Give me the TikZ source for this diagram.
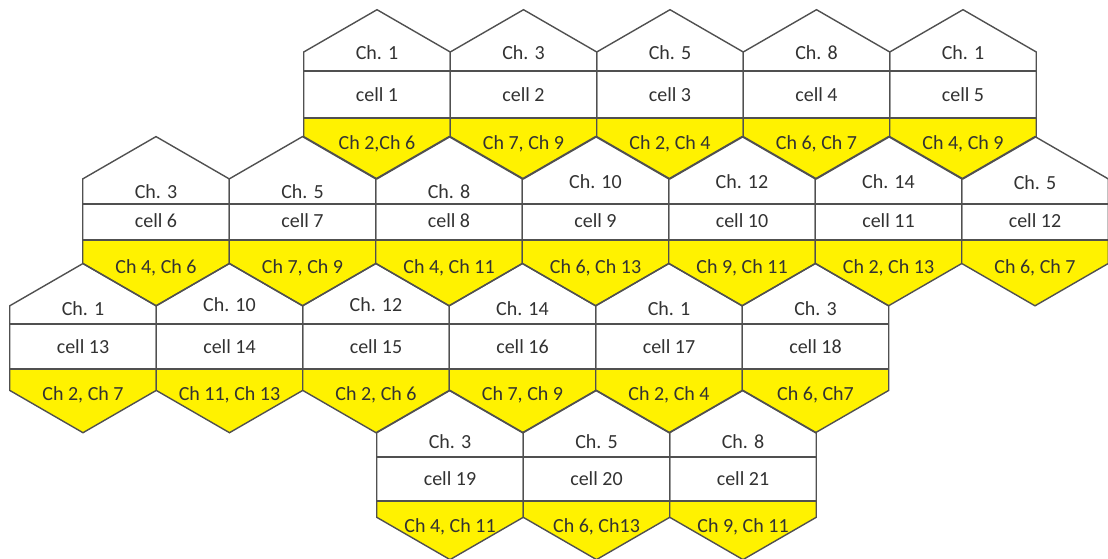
\documentclass[tikz,border=0pt]{standalone}
\usepackage{fontspec}
\setmainfont{Carlito}
\usepackage{tikz}
\definecolor{hexline}{RGB}{80,80,80}
\definecolor{hexyellow}{RGB}{255,242,0}
\definecolor{hextext}{RGB}{50,50,50}

% one hexagonal cell: centre x, number, channel, channel pair, y of channel label
\newcommand\hexcell[5]{%
  \fill[hexyellow] (#1-73.25,\divlow) -- (#1+73.25,\divlow) -- (#1+73.25,\rowbot)
    -- (#1,\rowbot+42.3) -- (#1-73.25,\rowbot) -- cycle;
  \draw[edge] (#1,\rowtop-42.3) -- (#1+73.25,\rowtop) -- (#1+73.25,\rowbot)
    -- (#1,\rowbot+42.3) -- (#1-73.25,\rowbot) -- (#1-73.25,\rowtop) -- cycle;
  \draw[edge] (#1-73.25,\divup) -- (#1+73.25,\divup);
  \draw[edge] (#1-73.25,\divlow) -- (#1+73.25,\divlow);
  \node[lbl] (ch#2) at (#1,#5) {Ch. #3};
  \node[lbl] (cell#2) at (#1,\ycell) {cell #2};
  \node[lbl] (pair#2) at (#1,\ypair) {#4};
}

\begin{document}
\begin{tikzpicture}[x=1pt, y=-1pt,
    lbl/.style={font=\fontsize{20}{24}\selectfont, text=hextext,
                inner sep=0pt, text height=13pt, text depth=0pt},
    edge/.style={draw=hexline, line width=1.4pt, line join=miter}
  ]
  \useasboundingbox (0,0) rectangle (1108,559);
  \clip (0,0) rectangle (1108,559);

  % row 1
  \def\rowtop{52}\def\rowbot{136.6}\def\divup{71}\def\divlow{118}
  \def\ycell{95}\def\ypair{143}
  \foreach \cx/\no/\chan/\pair in {377/1/1/{Ch 2,Ch 6}, 523.5/2/3/{Ch 7, Ch 9},
      670/3/5/{Ch 2, Ch 4}, 816.5/4/8/{Ch 6, Ch 7}, 963/5/1/{Ch 4, Ch 9}}
    {\hexcell{\cx}{\no}{\chan}{\pair}{53}}

  % row 2
  \def\rowtop{178.9}\def\rowbot{263.5}\def\divup{204}\def\divlow{240}
  \def\ycell{221}\def\ypair{267}
  \foreach \cx/\no/\chan/\pair/\ych in {156/6/3/{Ch 4, Ch 6}/192,
      302.5/7/5/{Ch 7, Ch 9}/192, 449/8/8/{Ch 4, Ch 11}/192,
      595.5/9/10/{Ch 6, Ch 13}/182, 742/10/12/{Ch 9, Ch 11}/182,
      888.5/11/14/{Ch 2, Ch 13}/182, 1035/12/5/{Ch 6, Ch 7}/183}
    {\hexcell{\cx}{\no}{\chan}{\pair}{\ych}}

  % row 3
  \def\rowtop{305.8}\def\rowbot{390.4}\def\divup{324}\def\divlow{369}
  \def\ycell{347}\def\ypair{394}
  \foreach \cx/\no/\chan/\pair/\ych in {83/13/1/{Ch 2, Ch 7}/309,
      229.5/14/10/{Ch 11, Ch 13}/305, 376/15/12/{Ch 2, Ch 6}/305,
      522.5/16/14/{Ch 7, Ch 9}/309, 669/17/1/{Ch 2, Ch 4}/309,
      815.5/18/3/{Ch 6, Ch7}/309}
    {\hexcell{\cx}{\no}{\chan}{\pair}{\ych}}

  % row 4
  \def\rowtop{432.7}\def\rowbot{517.3}\def\divup{457}\def\divlow{501}
  \def\ycell{479}\def\ypair{526}
  \foreach \cx/\no/\chan/\pair in {450/19/3/{Ch 4, Ch 11},
      596.5/20/5/{Ch 6, Ch13}, 743/21/8/{Ch 9, Ch 11}}
    {\hexcell{\cx}{\no}{\chan}{\pair}{442}}
\end{tikzpicture}
\end{document}
